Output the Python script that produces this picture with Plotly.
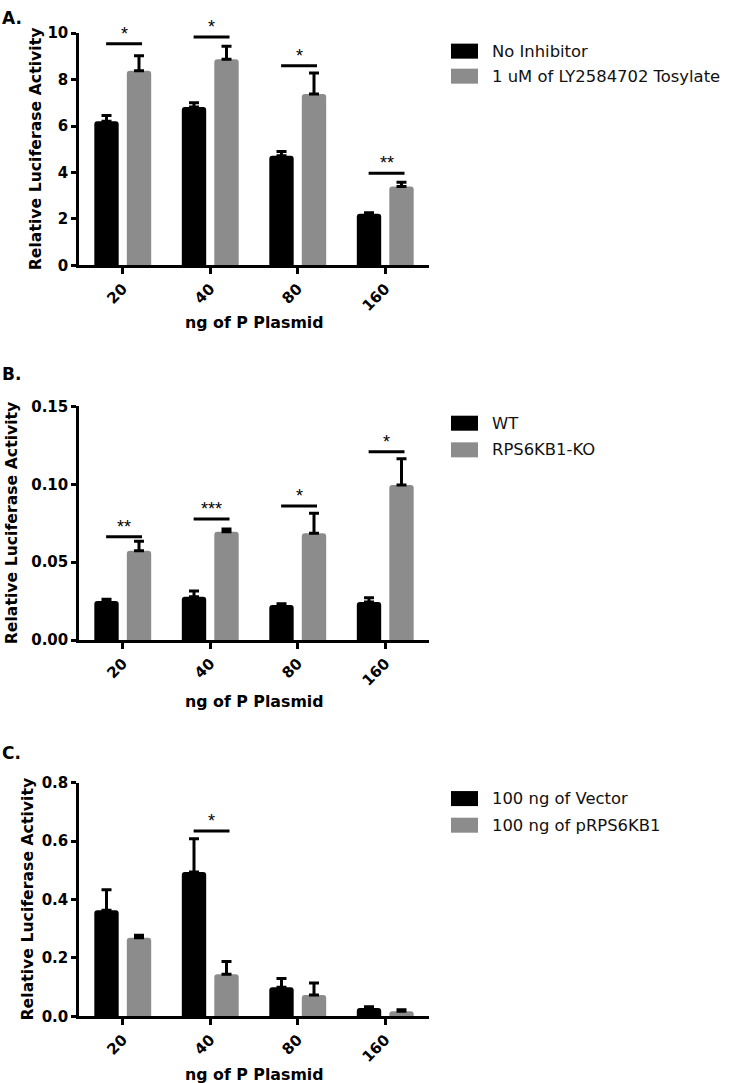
import plotly.graph_objects as go

FONT = "DejaVu Sans, Verdana, sans-serif"
STAR_FONT = "Liberation Sans, Arial, sans-serif"

categories = ["20", "40", "80", "160"]

# Panel A
a_names = ["No Inhibitor", "1 uM of LY2584702 Tosylate"]
a_black = [6.20, 6.82, 4.72, 2.22]
a_black_err = [0.25, 0.18, 0.18, 0.04]
a_gray = [8.38, 8.88, 7.38, 3.40]
a_gray_err = [0.65, 0.55, 0.90, 0.18]
a_sig_y = [9.54, 9.83, 8.60, 3.97]
a_sig_lbl = ["*", "*", "*", "**"]

# Panel B
b_names = ["WT", "RPS6KB1-KO"]
b_black = [0.0250, 0.0278, 0.0225, 0.0244]
b_black_err = [0.0012, 0.0037, 0.0008, 0.0027]
b_gray = [0.0574, 0.0696, 0.0685, 0.0996]
b_gray_err = [0.0060, 0.0017, 0.0130, 0.0168]
b_sig_y = [0.0664, 0.0778, 0.0861, 0.1210]
b_sig_lbl = ["**", "***", "*", "*"]

# Panel C
c_names = ["100 ng of Vector", "100 ng of pRPS6KB1"]
c_black = [0.363, 0.494, 0.100, 0.029]
c_black_err = [0.070, 0.114, 0.030, 0.004]
c_gray = [0.269, 0.144, 0.073, 0.018]
c_gray_err = [0.009, 0.044, 0.041, 0.005]
c_sig_cat = ["40"]
c_sig_y = [0.634]
c_sig_lbl = ["*"]

BLACK = "#000000"
GRAY = "#8c8c8c"

W, H = 733, 1095
# observed vertical mapping of the photographed page
Y0, YS = 7.9, 0.9826


def px_x(p):
    return p / W


def page_y(p):
    return (p - Y0) / YS


def px_y(p):
    return 1 - page_y(p) / H


panels = [
    dict(key="", names=a_names, black=a_black, berr=a_black_err, gray=a_gray, gerr=a_gray_err,
         sig_cat=categories, sig_y=a_sig_y, sig_lbl=a_sig_lbl,
         top=32, bot=264, rng=[0, 10], dtick=2, fmt="d", letter="A.", letter_y=11,
         ytitle_x=35, xtitle_y=321, leg_y=[50, 75]),
    dict(key="2", names=b_names, black=b_black, berr=b_black_err, gray=b_gray, gerr=b_gray_err,
         sig_cat=categories, sig_y=b_sig_y, sig_lbl=b_sig_lbl,
         top=405, bot=638.3, rng=[0, 0.15], dtick=0.05, fmt=".2f", letter="B.", letter_y=373,
         ytitle_x=11, xtitle_y=700, leg_y=[421.7, 448.3]),
    dict(key="3", names=c_names, black=c_black, berr=c_black_err, gray=c_gray, gerr=c_gray_err,
         sig_cat=c_sig_cat, sig_y=c_sig_y, sig_lbl=c_sig_lbl,
         top=780.7, bot=1014.3, rng=[0, 0.8], dtick=0.2, fmt=".1f", letter="C.", letter_y=751,
         ytitle_x=27, xtitle_y=1072, leg_y=[796.7, 823.3]),
]

X_LEFT, X_RIGHT = 79, 429

fig = go.Figure()
shapes = []
annotations = []

for p in panels:
    k = p["key"]
    xa, ya = "x" + k, "y" + k
    for name, vals, errs, col in [(p["names"][0], p["black"], p["berr"], BLACK),
                                   (p["names"][1], p["gray"], p["gerr"], GRAY)]:
        fig.add_trace(go.Bar(
            x=categories, y=vals, name=name, xaxis=xa, yaxis=ya,
            marker=dict(color=col, line=dict(width=0), cornerradius=3),
            error_y=dict(type="data", array=errs, arrayminus=[0] * len(errs), symmetric=False,
                         color=BLACK, thickness=3, width=5),
            showlegend=False,
        ))
    fig.update_layout(**{
        "xaxis" + k: dict(domain=[px_x(X_LEFT), px_x(X_RIGHT)], anchor=ya, type="category",
                          categoryorder="array", categoryarray=categories,
                          showline=True, linecolor="black", linewidth=2.5,
                          ticks="outside", ticklen=6, tickwidth=2.5, tickcolor="black",
                          tickangle=-45, showgrid=False, zeroline=False,
                          tickfont=dict(family=FONT, size=15, color="black", weight="bold")),
        "yaxis" + k: dict(domain=[px_y(p["bot"]), px_y(p["top"])], anchor=xa, range=p["rng"],
                          dtick=p["dtick"], tick0=0, tickformat=p["fmt"],
                          showline=True, linecolor="black", linewidth=2.5,
                          ticks="outside", ticklen=5, tickwidth=2.5, tickcolor="black",
                          showgrid=False, zeroline=False,
                          tickfont=dict(family=FONT, size=15, color="black", weight="bold")),
    })
    # significance bars
    for cat, sy, lbl in zip(p["sig_cat"], p["sig_y"], p["sig_lbl"]):
        ci = categories.index(cat)
        shapes.append(dict(type="line", xref=xa, yref=ya, x0=ci - 0.19, x1=ci + 0.22,
                           y0=sy, y1=sy, line=dict(color="black", width=3)))
        annotations.append(dict(xref=xa, yref=ya, x=ci + 0.015, y=sy, text=lbl, showarrow=False,
                                yanchor="bottom", yshift=-2,
                                font=dict(family=STAR_FONT, size=18, color="black")))
    # axis titles
    annotations.append(dict(xref="paper", yref="paper", x=px_x(p["ytitle_x"]),
                            y=px_y((p["top"] + p["bot"]) / 2), text="Relative Luciferase Activity",
                            textangle=-90, showarrow=False, xanchor="center", yanchor="middle",
                            font=dict(family=FONT, size=15.7, color="black", weight="bold")))
    annotations.append(dict(xref="paper", yref="paper", x=px_x((X_LEFT + X_RIGHT) / 2),
                            y=px_y(p["xtitle_y"]), text="ng of P Plasmid",
                            showarrow=False, xanchor="center", yanchor="middle",
                            font=dict(family=FONT, size=15.8, color="black", weight="bold")))
    ly_letter = min(px_y(p["letter_y"]), 1 - 9 / H)
    annotations.append(dict(xref="paper", yref="paper", x=0, y=ly_letter,
                            text=p["letter"], showarrow=False, xanchor="left", yanchor="middle",
                            font=dict(family=FONT, size=17, color="black", weight="bold")))
    # legend
    for ly, name, col in zip(p["leg_y"], p["names"], [BLACK, GRAY]):
        shapes.append(dict(type="rect", xref="paper", yref="paper",
                           x0=px_x(451), x1=px_x(478), y0=px_y(ly + 7.5), y1=px_y(ly - 7.5),
                           fillcolor=col, line=dict(width=0)))
        annotations.append(dict(xref="paper", yref="paper", x=px_x(490), y=px_y(ly),
                                text=name, showarrow=False, xanchor="left", yanchor="middle",
                                font=dict(family=FONT, size=16.4, color="#111111")))

fig.update_layout(
    width=W, height=H,
    margin=dict(l=0, r=0, t=0, b=0),
    paper_bgcolor="white", plot_bgcolor="white",
    barmode="group", bargap=0.257, bargroupgap=0.25,
    shapes=shapes, annotations=annotations,
    showlegend=False,
)

fig.write_html(
    "out.html",
    config={"displayModeBar": False},
    post_script="document.body.style.margin='0';document.body.style.overflow='hidden';",
)
